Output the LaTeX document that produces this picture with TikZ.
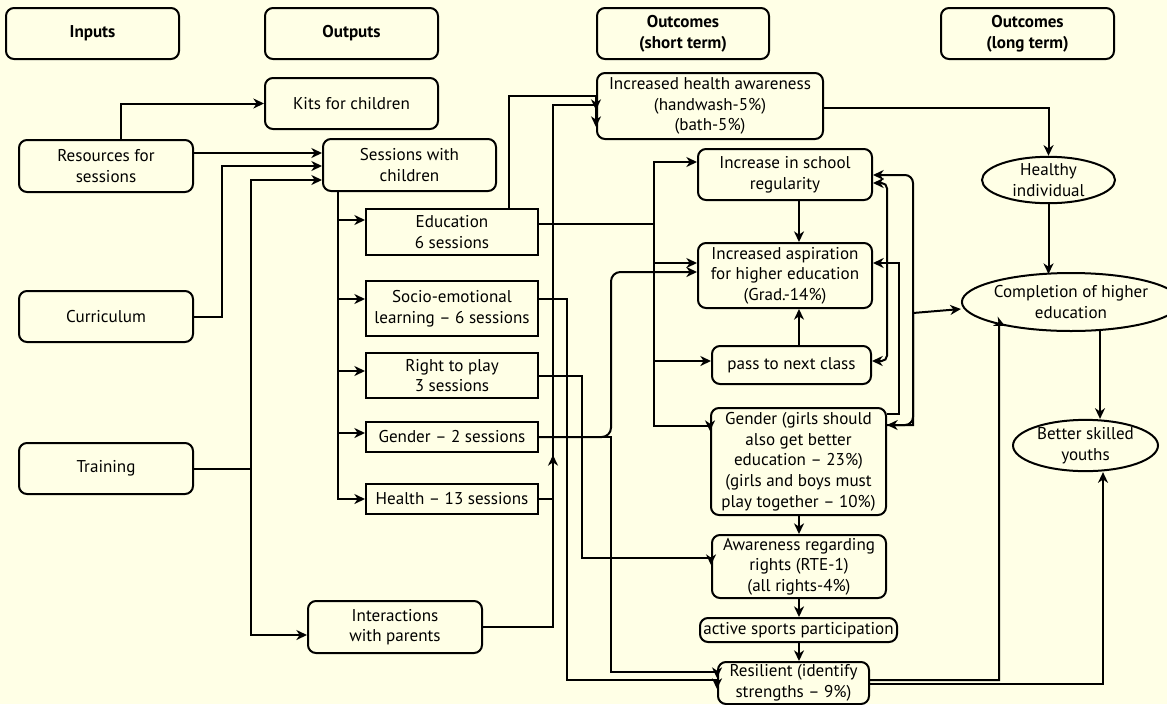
\documentclass[tikz,border=0pt]{standalone}
\usepackage{fontspec}
\setmainfont{PT Sans}
\usetikzlibrary{arrows.meta,shapes.geometric}
\definecolor{bgc}{RGB}{255,255,230}
\tikzset{
  sz/.style 2 args={minimum width=#1*0.75pt, minimum height=#2*0.75pt},
  hdr/.style={draw, line width=1.5pt, rounded corners=6pt, inner sep=0pt, align=center, font=\fontsize{12.8}{15.5}\selectfont\bfseries},
  rbox/.style={draw, line width=1.5pt, rounded corners=6pt, inner sep=0pt, align=center},
  sbox/.style={draw, line width=1.5pt, inner sep=0pt, align=center},
  ebox/.style={draw, line width=1.5pt, ellipse, inner sep=0pt, align=center},
  arr/.style={line width=1.5pt, -{Stealth[length=8pt,width=7.5pt,inset=2.5pt]}},
  barr/.style={line width=1.5pt, {Stealth[length=8pt,width=7.5pt,inset=2.5pt]}-{Stealth[length=8pt,width=7.5pt,inset=2.5pt]}},
}
\begin{document}
\begin{tikzpicture}[x=0.75pt,y=-0.75pt,font=\fontsize{12.8}{15.5}\selectfont]
\fill[bgc] (0,0) rectangle (1167,704);
\useasboundingbox (0,0) rectangle (1167,704);

% headers
\node[hdr,sz={173}{51}] (hIn) at (92.5,33.5) {Inputs};
\node[hdr,sz={173}{51}] (hOut) at (351.5,33.5) {Outputs};
\node[hdr,sz={172}{51}] (hST) at (683,33.5) {Outcomes\\(short term)};
\node[hdr,sz={173}{51}] (hLT) at (1027.5,33.5) {Outcomes\\(long term)};

% inputs
\node[rbox,sz={174}{52}] (res) at (106,166) {Resources for\\sessions};
\node[rbox,sz={174}{51}] (cur) at (106,316.5) {Curriculum};
\node[rbox,sz={174}{51}] (trn) at (106,468.5) {Training};

% outputs
\node[rbox,sz={173}{51}] (kits) at (351.5,103.5) {Kits for children};
\node[rbox,sz={173}{52}] (sess) at (409.5,165) {Sessions with\\children};
\node[sbox,sz={172}{46}] (edu) at (452,232) {Education\\6 sessions};
\node[sbox,sz={172}{55}] (sel) at (452,308.5) {Socio-emotional\\learning – 6 sessions};
\node[sbox,sz={172}{45}] (rtp) at (452,375.5) {Right to play\\3 sessions};
\node[sbox,sz={172}{30}] (gen2) at (452,437) {Gender – 2 sessions};
\node[sbox,sz={172}{30}] (hlth) at (452,499) {Health – 13 sessions};
\node[rbox,sz={174}{52}] (inter) at (395,627) {Interactions\\with parents};

% short term outcomes
\node[rbox,sz={226}{66}] (ha) at (710,106) {Increased health awareness\\(handwash-5\%)\\(bath-5\%)};
\node[rbox,sz={174}{51}] (reg) at (785,174.5) {Increase in school\\regularity};
\node[rbox,sz={174}{65}] (asp) at (785,275.5) {Increased aspiration\\for higher education\\(Grad.-14\%)};
\node[rbox,sz={159}{38}] (pass) at (791.5,365) {pass to next class};
\node[rbox,sz={175}{107}] (gen) at (798.5,461.5) {Gender (girls should\\also get better\\education – 23\%)\\(girls and boys must\\play together – 10\%)};
\node[rbox,sz={174}{63}] (aw) at (799,566.5) {Awareness regarding\\rights (RTE-1)\\(all rights-4\%)};
\node[rbox,sz={197}{24}] (sport) at (798.5,630) {active sports participation};
\node[rbox,sz={151}{42}] (resil) at (793.5,683) {Resilient (identify\\strengths – 9\%)};

% long term outcomes
\node[ebox,sz={133}{46}] (healthy) at (1048.5,180) {Healthy\\individual};
\node[ebox,sz={174}{58}] (comp) at (1071,302) {Completion of higher\\education};
\node[ebox,sz={145}{51}] (better) at (1085.5,445.5) {Better skilled\\youths};

% inputs -> outputs
\draw[arr] (121,0 |- res.north) |- (kits.west);
\draw[arr] (res.east |- 0,153) -- (sess.west |- 0,153);
\draw[arr] (cur.east) -| (222,166) -- (sess.west |- 0,166);
\draw[arr] (trn.east) -| (251,180) -- (sess.west |- 0,180);
\draw[arr] (trn.east) -| (251,635) -- (inter.west |- 0,635);

% sessions -> sub sessions
\draw[arr] (338,0 |- sess.south) |- (edu.west |- 0,220);
\draw[arr] (338,0 |- sess.south) |- (sel.west |- 0,299);
\draw[arr] (338,0 |- sess.south) |- (rtp.west |- 0,371);
\draw[arr] (338,0 |- sess.south) |- (gen2.west |- 0,433);
\draw[arr] (338,0 |- sess.south) |- (hlth.west |- 0,499);

% to health awareness
\draw[arr] (509,0 |- edu.north) |- (ha.west |- 0,96) -- (ha.west |- 0,110);
\draw[arr] (hlth.east) -| (553,105) -- (ha.west |- 0,105) -- (ha.west |- 0,127);
\coordinate (dangle) at (553,455);
\draw[arr] (inter.east) -| (dangle);

% education -> school outcomes
\draw[arr] (edu.east |- 0,224) -| (654,162) -- (reg.west |- 0,162);
\draw[arr] (edu.east |- 0,224) -| (654,263) -- (asp.west |- 0,263);
\draw[arr] (edu.east |- 0,224) -| (654,361) -- (pass.west |- 0,361);
\draw[arr] (edu.east |- 0,224) -| (654,426) -- (gen.west |- 0,426) -- (gen.west |- 0,431);

% socio-emotional, right to play, gender sessions
\draw[arr] (sel.east |- 0,299) -| (567,680) -- (resil.west |- 0,680) -- (resil.west |- 0,689);
\draw[arr] (rtp.east) -| (582,558) -- (aw.west |- 0,558) -- (aw.west |- 0,565);
\draw[arr,rounded corners=7pt] (gen2.east) -| (611,272) -- (asp.west |- 0,272);
\draw[arr] (gen2.east) -| (611,672) -- (resil.west |- 0,672) -- (resil.west |- 0,678);

% vertical chain
\draw[arr] (799,0 |- reg.south) -- (799,0 |- asp.north);
\draw[arr] (799,0 |- pass.north) -- (799,0 |- asp.south);
\draw[arr] (799,0 |- gen.south) -- (799,0 |- aw.north);
\draw[arr] (799,0 |- aw.south) -- (799,0 |- sport.north);
\draw[arr] (799,0 |- sport.south) -- (799,0 |- resil.north);

% right side loops
\draw[barr,rounded corners=6pt] (reg.east |- 0,175) -- (913,175) -- (913,425) -- (gen.east |- 0,425);
\draw[barr,rounded corners=4pt] (reg.east |- 0,183) -- (887,183) -- (887,361) -- (pass.east |- 0,361);
\draw[arr] (gen.east |- 0,414) -- (899,414) -- (899,263) -- (asp.east |- 0,263);
\draw[arr] (gen.east |- 0,425) -- (913,425) -- (913,313) -- (comp.west |- 0,309);

% long term
\draw[arr] (ha.east |- 0,108) -| (healthy.north);
\draw[arr] (healthy.south) -- (healthy.south |- 0,274);
\draw[arr] (1100,0 |- comp.south) ++(0,-2) -- (1100,0 |- better.north);
\draw[arr] (resil.east |- 0,680) -| (999,323) -- (comp.-160);
\draw[arr] (resil.east |- 0,684) -| (1103,0 |- better.south);
\end{tikzpicture}
\end{document}
